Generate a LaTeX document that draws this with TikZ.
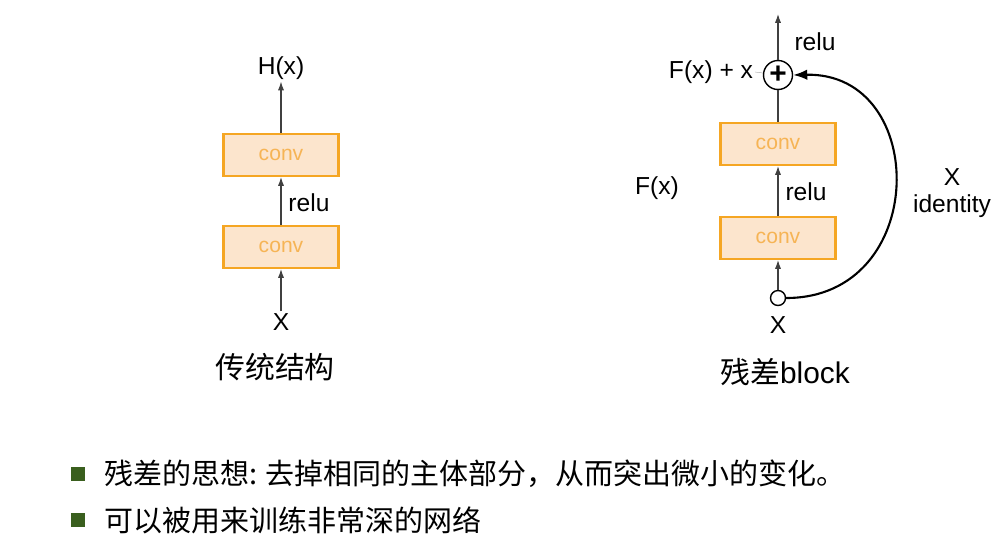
\documentclass[tikz,border=0pt]{standalone}
\usepackage{fontspec}
\setmainfont{Liberation Sans}
\newfontfamily\cjk{Noto Sans CJK SC}
\usetikzlibrary{positioning, arrows.meta}
\definecolor{convorange}{RGB}{245, 166, 35}
\definecolor{convfill}{RGB}{252, 229, 205}
\definecolor{convtext}{RGB}{246, 180, 85}
\definecolor{bulletgreen}{RGB}{58, 95, 30}
\begin{document}
\begin{tikzpicture}[x=0.02cm, y=-0.02cm,
        conv/.style={draw=convorange, fill=convfill, line width=1.2pt, minimum width=2.3cm,
                     minimum height=0.84cm, font=\fontsize{12}{12}\selectfont, text=convtext},
        arr/.style={-{Latex[length=5pt, width=3.5pt]}, semithick, black!75},
        lbl/.style={font=\fontsize{14}{14}\selectfont, inner sep=1pt},
        title/.style={font=\fontsize{17}{17}\selectfont, inner sep=1pt},
        bullet/.style={fill=bulletgreen, minimum size=0.28cm, inner sep=0pt},
        point/.style={font=\cjk\fontsize{16.5}{16.5}\selectfont, anchor=west, inner sep=0pt}
      ]
        \useasboundingbox (0,0) rectangle (1000,542);
        % traditional stack
        \node[conv] (c1) at (281,155) {conv};
        \node[conv] (c2) at (281,247) {conv};
        \node[lbl] (h) at (281,68) {H(x)};
        \node[lbl] (x1) at (281,322) {X};
        \node[lbl] (r1) at (309,203) {relu};
        \node[title] (t1) at (275,367) {\cjk 传统结构};
        \draw[arr] (x1.north) -- (c2);
        \draw[arr] (c2) -- (c1);
        \draw[arr] (c1) -- (h.south);
        % residual block
        \node[conv] (c3) at (778,144) {conv};
        \node[conv] (c4) at (778,238) {conv};
        \node[draw, circle, thick, minimum size=0.58cm, inner sep=0pt,
              font=\fontsize{17}{17}\selectfont\bfseries] (sum) at (778,75) {+};
        \node[draw, circle, thick, minimum size=0.3cm, inner sep=0pt] (in) at (778,298) {};
        \coordinate (out) at (778,14);
        \node[lbl] (x2) at (778,325) {X};
        \node[lbl] (r2) at (815,42) {relu};
        \node[lbl] (r3) at (806,192) {relu};
        \node[lbl] (fxx) at (711,72) {F(x) + x};
        \node[lbl] (fx) at (657,188) {F(x)};
        \node[lbl] (xid) at (952,177) {X};
        \node[lbl, below=0.1cm of xid] (id) {identity};
        \node[title] (t2) at (785,372) {{\cjk 残差}block};
        \draw[arr] (in) -- (c4);
        \draw[arr] (c4) -- (c3);
        \draw[semithick, black!75] (c3) -- (sum);
        \draw[arr] (sum) -- (out);
        \draw[black!40, very thin] (fxx.east) -- (sum);
        \draw[-{Latex[length=8pt, width=6pt]}, line width=1.2pt]
          (in.east) .. controls (930,298) and (930,72) .. (sum.east);
        % bullet points
        \node[bullet] (b1) at (78,474) {};
        \node[bullet] (b2) at (78,520) {};
        \node[point] (p1) at (104,474) {残差的思想: 去掉相同的主体部分，从而突出微小的变化。};
        \node[point] (p2) at (104,520) {可以被用来训练非常深的网络};
      \end{tikzpicture}
\end{document}
